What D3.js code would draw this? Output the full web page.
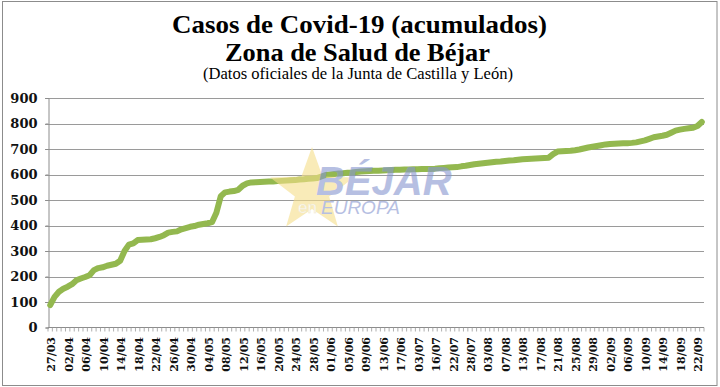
<!DOCTYPE html>
<html>
<head>
<meta charset="utf-8">
<script src="https://cdn.jsdelivr.net/npm/d3@7"></script>
<style>
  html, body { margin: 0; padding: 0; background: #fff; }
  svg { display: block; }
</style>
</head>
<body>
<svg id="chart" width="720" height="387"></svg>
<script>
// labels shown on the x axis (every 4th report)
const tickLabels = ['27/03','02/04','06/04','10/04','14/04','18/04','22/04','26/04','30/04','04/05',
  '08/05','12/05','16/05','20/05','24/05','28/05','01/06','05/06','09/06','13/06','17/06','03/07',
  '16/07','22/07','28/07','03/08','07/08','13/08','17/08','21/08','25/08','29/08','02/09','06/09',
  '10/09','14/09','18/09','22/09'];
const labelStep = 4;

// accumulated cases, one per report
const casos = [
  88, 120, 140, 152, 160, 170, 185, 192, 198, 205,
  225, 233, 236, 242, 246, 250, 262, 300, 325, 330,
  343, 344, 345, 346, 350, 355, 362, 372, 375, 377,
  385, 390, 395, 398, 403, 406, 409, 413, 450, 515,
  530, 533, 535, 540, 556, 565, 569, 570, 571, 572,
  573, 573, 574, 575, 576, 577, 578, 580, 581, 583,
  584, 586, 592, 598, 600, 602, 604, 605, 607, 608,
  610, 612, 613, 614, 615, 615, 616, 617, 618, 619,
  619, 620, 620, 621, 621, 622, 622, 622, 623, 625,
  626, 627, 628, 629, 632, 634, 637, 640, 642, 644,
  646, 648, 650, 651, 653, 655, 656, 658, 660, 661,
  662, 663, 664, 665, 666, 680, 690, 691, 692, 693,
  695, 698, 702, 706, 709, 712, 715, 718, 720, 721,
  722, 723, 723, 724, 726, 730, 734, 740, 746, 749,
  752, 756, 764, 772, 776, 779, 781, 783, 790, 806
];
const yTicks = [0, 100, 200, 300, 400, 500, 600, 700, 800, 900];

const titleLines = ['Casos de Covid-19 (acumulados)', 'Zona de Salud de Béjar'];
const subtitle = '(Datos oficiales de la Junta de Castilla y León)';

const svg = d3.select('#chart');
const serif = "'DejaVu Serif', 'Liberation Serif', serif";
const titleFont = "'Liberation Serif', serif";
const plotL = 48, plotR = 704, plotT = 98, plotB = 327.5;

// outer frame
svg.append('rect').attr('x', 2.5).attr('y', 1.5).attr('width', 714.5).attr('height', 384)
  .attr('fill', '#fff').attr('stroke', '#8c8c8c').attr('stroke-width', 1);

// titles
svg.append('text').attr('x', 359.5).attr('y', 33).attr('text-anchor', 'middle')
  .attr('font-family', titleFont).attr('font-weight', 'bold').attr('font-size', 26)
  .attr('textLength', 375).attr('lengthAdjust', 'spacingAndGlyphs')
  .text(titleLines[0]);
svg.append('text').attr('x', 357.5).attr('y', 61).attr('text-anchor', 'middle')
  .attr('font-family', titleFont).attr('font-weight', 'bold').attr('font-size', 26)
  .attr('textLength', 265).attr('lengthAdjust', 'spacingAndGlyphs')
  .text(titleLines[1]);
svg.append('text').attr('x', 358).attr('y', 78.5).attr('text-anchor', 'middle')
  .attr('font-family', titleFont).attr('font-size', 16)
  .attr('textLength', 310).attr('lengthAdjust', 'spacingAndGlyphs')
  .text(subtitle);

const idx = casos.map((d, i) => i);
const x = d3.scaleBand().domain(idx).range([plotL, plotR]);
const y = d3.scaleLinear().domain([0, 900]).range([plotB, plotT]);

// horizontal gridlines
svg.append('g').selectAll('line').data(yTicks.filter(t => t > 0)).enter().append('line')
  .attr('x1', plotL - 3).attr('x2', plotR)
  .attr('y1', d => Math.round(y(d)) + 0.5).attr('y2', d => Math.round(y(d)) + 0.5)
  .attr('stroke', '#9a9a9a').attr('stroke-width', 1);

// y axis
const yAxis = svg.append('g').attr('transform', `translate(${plotL + 0.5},0)`)
  .call(d3.axisLeft(y).tickValues(yTicks).tickSize(3).tickPadding(8));
yAxis.select('.domain').attr('stroke', '#8c8c8c');
yAxis.selectAll('.tick line').attr('stroke', '#8c8c8c');
yAxis.selectAll('text').attr('font-family', serif).attr('font-weight', 'bold')
  .attr('font-size', 13).attr('fill', '#111');

// x axis: a tick at each category edge, labels every 4th
const edges = idx.concat([casos.length]);
const xg = svg.append('g');
xg.append('line').attr('x1', plotL).attr('x2', plotR).attr('y1', plotB).attr('y2', plotB)
  .attr('stroke', '#8c8c8c');
xg.selectAll('line.tk').data(edges).enter().append('line').attr('class', 'tk')
  .attr('x1', d => (d < casos.length ? x(d) : plotR)).attr('x2', d => (d < casos.length ? x(d) : plotR))
  .attr('y1', plotB).attr('y2', plotB + 4)
  .attr('stroke', '#9a9a9a').attr('stroke-width', 0.8);
xg.selectAll('text').data(tickLabels).enter().append('text')
  .attr('transform', (d, i) => `translate(${x(i * labelStep) + x.bandwidth() / 2 + 1},337) rotate(-90)`)
  .attr('text-anchor', 'end').attr('dy', '0.36em')
  .attr('font-family', serif).attr('font-weight', 'bold').attr('font-size', 11).attr('fill', '#111')
  .text(d => d);

// the series
const line = d3.line().x((d, i) => x(i) + x.bandwidth() / 2).y(d => y(d));
svg.append('path').datum(casos).attr('d', line)
  .attr('fill', 'none').attr('stroke', '#93b84f').attr('stroke-width', 6)
  .attr('stroke-linejoin', 'round').attr('stroke-linecap', 'round');

// watermark logo
const wm = svg.append('g').attr('opacity', 0.6);
const cx = 312, cy = 191, R = 44, r = 18;
const starPts = d3.range(10).map(k => {
  const a = -Math.PI / 2 + k * Math.PI / 5;
  const rad = k % 2 === 0 ? R : r;
  return [cx + rad * Math.cos(a), cy + rad * Math.sin(a)];
});
wm.append('polygon').attr('points', starPts.map(p => p.join(',')).join(' '))
  .attr('fill', '#f6df8a');
wm.append('text').attr('x', 298).attr('y', 213).attr('font-family', 'Arial, Liberation Sans, sans-serif')
  .attr('font-size', 17).attr('fill', '#fff').attr('stroke', '#e8d9a8').attr('stroke-width', 0.6)
  .text('en');
wm.append('text').attr('x', 316).attr('y', 195).attr('font-family', "'Liberation Sans', Arial, sans-serif")
  .attr('font-style', 'italic').attr('font-weight', 'bold').attr('font-size', 40).attr('fill', '#8796cf')
  .text('BÉJAR');
wm.append('text').attr('x', 321).attr('y', 214).attr('font-family', "'Liberation Sans', Arial, sans-serif")
  .attr('font-style', 'italic').attr('font-size', 19).attr('fill', '#8796cf')
  .text('EUROPA');
</script>
</body>
</html>
